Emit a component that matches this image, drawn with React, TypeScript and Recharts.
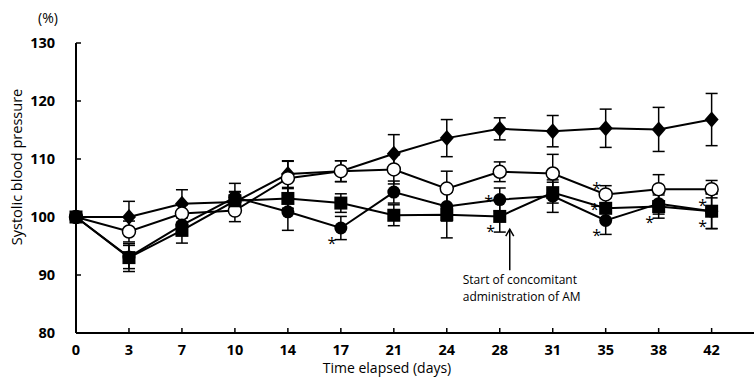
import React from "react"
import { LineChart, Line, XAxis, YAxis, ErrorBar, ReferenceDot } from "recharts"

// days after start, shown as evenly spaced categories
const days = [0, 3, 7, 10, 14, 17, 21, 24, 28, 31, 35, 38, 42]

const diamondMean = [100, 100, 102.3, 102.6, 107.4, 107.9, 110.9, 113.6, 115.2, 114.8, 115.3, 115.1, 116.8]
const diamondSd = [0, 2.7, 2.4, 1.8, 2.3, 1.8, 3.3, 3.2, 1.9, 2.7, 3.3, 3.8, 4.5]
const openMean = [100, 97.5, 100.6, 101.1, 106.7, 107.9, 108.2, 104.9, 107.8, 107.5, 103.9, 104.8, 104.8]
const openSd = [0, 1.8, 1.5, 1.9, 2.9, 1.8, 2.5, 3.0, 1.7, 3.3, 1.5, 2.5, 1.5]
const filledMean = [100, 93.1, 98.6, 103.4, 100.9, 98.1, 104.3, 101.8, 103.0, 103.6, 99.4, 102.3, 101.0]
const filledSd = [0, 2.0, 1.8, 2.4, 3.2, 2.0, 1.9, 2.5, 2.0, 2.8, 2.4, 1.8, 3.0]
const squareMean = [100, 93.0, 97.7, 102.8, 103.2, 102.4, 100.3, 100.4, 100.1, 104.2, 101.5, 101.8, 101.0]
const squareSd = [0, 2.4, 2.2, 1.5, 1.7, 1.6, 1.8, 4.0, 2.7, 1.8, 1.8, 2.0, 3.0]

const yTicks = [80, 90, 100, 110, 120, 130]

// significance marks: day index, value of the marked point, where the star sits
const stars = [
  { i: 5, v: 98.1, at: "belowLeft" },
  { i: 8, v: 103.0, at: "left" },
  { i: 8, v: 100.1, at: "belowLeft" },
  { i: 10, v: 103.9, at: "aboveLeft" },
  { i: 10, v: 101.5, at: "left" },
  { i: 10, v: 99.4, at: "belowLeft" },
  { i: 11, v: 101.8, at: "belowLeft" },
  { i: 12, v: 101.0, at: "aboveLeft" },
  { i: 12, v: 101.0, at: "belowLeft" },
]

const data = days.map((d, i) => ({
  i,
  day: d,
  diamond: diamondMean[i],
  diamondErr: diamondSd[i],
  open: openMean[i],
  openErr: openSd[i],
  filled: filledMean[i],
  filledErr: filledSd[i],
  square: squareMean[i],
  squareErr: squareSd[i],
}))

const FONT = "'Open Sans', 'Liberation Sans', sans-serif"

const starOffset: Record<string, [number, number]> = {
  left: [-11, -2],
  belowLeft: [-9, 12],
  aboveLeft: [-9, -9],
}

const XTick = ({ x, y, payload }: any) => (
  <g>
    <line x1={x} x2={x} y1={y} y2={y - 5} stroke="#000" strokeWidth={1.5} />
    <text x={x} y={y + 22} textAnchor="middle" fontFamily={FONT} fontWeight="bold" fontSize={14.5} fill="#000">
      {days[payload.value]}
    </text>
  </g>
)

const YTick = ({ x, y, payload }: any) => (
  <g>
    <line x1={x} x2={x + 5} y1={y} y2={y} stroke="#000" strokeWidth={1.5} />
    <text x={x - 21} y={y + 5} textAnchor="end" fontFamily={FONT} fontWeight="bold" fontSize={14.5} fill="#000">
      {payload.value}
    </text>
  </g>
)

const diamondDot = (p: any) => (
  <polygon
    key={`dm-${p.index}`}
    points={`${p.cx},${p.cy - 8} ${p.cx + 7},${p.cy} ${p.cx},${p.cy + 8} ${p.cx - 7},${p.cy}`}
    fill="#000"
  />
)
const openDot = (p: any) => (
  <circle key={`oc-${p.index}`} cx={p.cx} cy={p.cy} r={6.5} fill="#fff" stroke="#000" strokeWidth={1.5} />
)
const filledDot = (p: any) => <circle key={`fc-${p.index}`} cx={p.cx} cy={p.cy} r={6.5} fill="#000" />
const squareDot = (p: any) => (
  <rect key={`sq-${p.index}`} x={p.cx - 6.5} y={p.cy - 6.5} width={13} height={13} fill="#000" />
)

const series = [
  { key: "diamond", dot: diamondDot },
  { key: "open", dot: openDot },
  { key: "filled", dot: filledDot },
  { key: "square", dot: squareDot },
]

const YTitle = ({ viewBox }: any) => {
  const cx = 16
  const cy = viewBox.y + 124
  return (
    <g>
      <text x={48} y={viewBox.y - 20} textAnchor="middle" fontFamily={FONT} fontSize={14} fill="#000">
        (%)
      </text>
      <text
        x={cx}
        y={cy}
        transform={`rotate(-90 ${cx} ${cy})`}
        textAnchor="middle"
        dominantBaseline="central"
        fontFamily={FONT}
        fontSize={14.5}
        fill="#000"
      >
        Systolic blood pressure
      </text>
    </g>
  )
}

const XTitle = ({ viewBox }: any) => (
  <text
    x={viewBox.x + 311}
    y={viewBox.y + 40}
    textAnchor="middle"
    fontFamily={FONT}
    fontSize={14}
    fill="#000"
  >
    Time elapsed (days)
  </text>
)

const Star = ({ cx, cy, at }: any) => {
  const [dx, dy] = starOffset[at]
  return (
    <text x={cx + dx} y={cy + dy + 9} textAnchor="middle" fontFamily={FONT} fontSize={16} fill="#000">
      *
    </text>
  )
}

const Arrow = ({ cx, cy }: any) => {
  const ax = cx + 10
  return (
    <g>
      <line x1={ax} x2={ax} y1={cy} y2={cy + 41} stroke="#000" strokeWidth={1.5} />
      <polyline points={`${ax - 4},${cy + 7} ${ax},${cy} ${ax + 4},${cy + 7}`} fill="none" stroke="#000" strokeWidth={1.5} />
      <text x={cx - 37} y={cy + 55} fontFamily={FONT} fontSize={12} fill="#000">
        Start of concomitant
      </text>
      <text x={cx - 37} y={cy + 72} fontFamily={FONT} fontSize={12} fill="#000">
        administration of AM
      </text>
    </g>
  )
}

export default function App() {
  return (
    <div style={{ position: "absolute", left: 0, top: 0, background: "#fff" }}>
      <LineChart width={754} height={378} data={data} margin={{ top: 43, right: 0, bottom: 0, left: 0 }}>
        <XAxis
          dataKey="i"
          type="number"
          domain={[0, 12.8]}
          ticks={days.map((_, i) => i)}
          height={45}
          tickSize={0}
          tickMargin={0}
          tickLine={false}
          tick={<XTick />}
          axisLine={{ stroke: "#000", strokeWidth: 2 }}
          label={{ content: XTitle }}
        />
        <YAxis
          type="number"
          domain={[80, 130]}
          ticks={yTicks}
          width={76}
          tickSize={0}
          tickMargin={0}
          tickLine={false}
          tick={<YTick />}
          axisLine={{ stroke: "#000", strokeWidth: 2 }}
          label={{ content: YTitle }}
        />
        {series.map((s) => (
          <Line
            key={`${s.key}-line`}
            dataKey={s.key}
            type="linear"
            stroke="#000"
            strokeWidth={2}
            dot={false}
            activeDot={false}
            isAnimationActive={false}
          >
            <ErrorBar dataKey={`${s.key}Err`} width={6} stroke="#000" strokeWidth={1.5} direction="y" />
          </Line>
        ))}
        {series.map((s) => (
          <Line
            key={`${s.key}-dots`}
            dataKey={s.key}
            type="linear"
            stroke="none"
            strokeWidth={0}
            dot={s.dot}
            activeDot={false}
            isAnimationActive={false}
          />
        ))}
        {stars.map((s, k) => (
          <ReferenceDot key={`star-${k}`} x={s.i} y={s.v} r={0} shape={(p: any) => <Star {...p} at={s.at} />} />
        ))}
        <ReferenceDot x={8} y={97.9} r={0} shape={(p: any) => <Arrow {...p} />} />
      </LineChart>
    </div>
  )
}
